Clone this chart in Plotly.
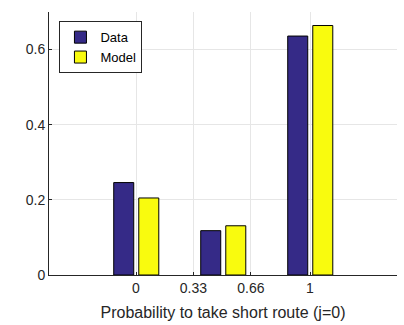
import plotly.graph_objects as go

# data
positions = [0, 0.5, 1]
data_vals = [0.246, 0.118, 0.636]
model_vals = [0.205, 0.131, 0.664]
xtick_vals = [0, 0.33, 0.66, 1]
xtick_text = ["0", "0.33", "0.66", "1"]
ytick_vals = [0, 0.2, 0.4, 0.6]
ytick_text = ["0", "0.2", "0.4", "0.6"]

FONT = "Liberation Sans, Arial, Helvetica, sans-serif"

fig = go.Figure()
fig.add_trace(go.Bar(
    x=positions, y=data_vals, name="Data",
    width=0.115, offset=-0.128,
    marker=dict(color="#352a87", line=dict(color="#000000", width=1)),
))
fig.add_trace(go.Bar(
    x=positions, y=model_vals, name="Model",
    width=0.115, offset=0.016,
    marker=dict(color="#f9fb0e", line=dict(color="#000000", width=1)),
))

fig.update_layout(
    width=404, height=325,
    margin=dict(l=49, r=7, t=12, b=50),
    paper_bgcolor="white", plot_bgcolor="white",
    barmode="overlay",
    showlegend=True,
    legend=dict(
        x=0.03, y=0.965, xanchor="left", yanchor="top",
        bgcolor="white", bordercolor="#262626", borderwidth=1,
        font=dict(family=FONT, size=13, color="#000000"),
        tracegroupgap=0, itemwidth=30,
    ),
    font=dict(family=FONT, size=14, color="#262626"),
)
fig.update_xaxes(
    range=[-0.5, 1.5],
    tickmode="array", tickvals=xtick_vals, ticktext=xtick_text,
    ticks="inside", ticklen=3, tickcolor="#262626",
    showgrid=True, gridcolor="#e6e6e6", gridwidth=1,
    showline=True, linecolor="#262626", linewidth=1,
    zeroline=False,
    tickfont=dict(family=FONT, size=14, color="#262626"),
    title=dict(text="Probability to take short route (j=0)",
               font=dict(family=FONT, size=16, color="#262626"), standoff=12),
)
fig.update_yaxes(
    range=[0, 0.7],
    tickmode="array", tickvals=ytick_vals, ticktext=ytick_text,
    ticks="inside", ticklen=3, tickcolor="#262626",
    showgrid=True, gridcolor="#e6e6e6", gridwidth=1,
    showline=True, linecolor="#262626", linewidth=1,
    zeroline=False,
    tickfont=dict(family=FONT, size=14, color="#262626"),
)

fig.write_html("out.html")
